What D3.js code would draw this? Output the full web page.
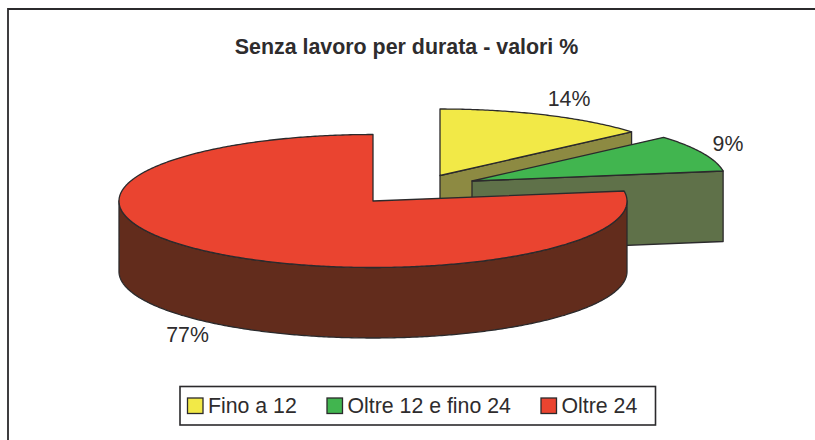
<!DOCTYPE html>
<html><head><meta charset="utf-8">
<script src="https://cdnjs.cloudflare.com/ajax/libs/d3/7.8.5/d3.min.js"></script>
<style>html,body{margin:0;padding:0;background:#fff}svg{display:block}text{font-family:"Liberation Sans",Arial,sans-serif;fill:#2e2c2d}</style>
</head><body><svg id="c" width="815" height="440"></svg>
<script>
const title = "Senza lavoro per durata - valori %";
const categories = ["Fino a 12", "Oltre 12 e fino 24", "Oltre 24"];
const values = [13.6, 9.0, 77.4];
const valueLabels = ["14%", "9%", "77%"];
const topColors = ["#f2e947", "#41b54f", "#ea4430"];
const wallColors = ["#8d8a42", "#5f7149", "#622c1c"];

const W = 815, H = 440, INK = "#2b2a2c";
const svg = d3.select("#c");
const RX = 254, RY = 66.5, DEPTH = 70.5;
// per-slice pie centre (exploded slices)
const centres = [[440, 175.5], [472, 181], [373, 201]];
const labelPos = [[569, 106], [728, 151], [187.5, 342]];

const pie = d3.pie().sort(null).value(d => d);
const arcs = pie(values);
const xs = d3.scaleLinear().domain([-1, 1]).range([-RX, RX]);
const ys = d3.scaleLinear().domain([-1, 1]).range([RY, -RY]);
const pt = (i, a, dz = 0) => [centres[i][0] + xs(Math.sin(a)), centres[i][1] + ys(Math.cos(a)) + dz];
const samples = (a0, a1) => { const n = Math.max(2, Math.ceil(Math.abs(a1 - a0) / 0.01)); return d3.range(n + 1).map(k => a0 + (a1 - a0) * k / n); };
const line = d3.line();

// frame: top and left edges only, the others fall outside the crop
svg.append("path").attr("d", line([[8, 440], [8, 9], [815, 9]]))
  .attr("fill", "none").attr("stroke", INK).attr("stroke-width", 1.8);

// title
svg.append("text").attr("x", 406.5).attr("y", 54).attr("text-anchor", "middle")
  .attr("font-size", 21.4).attr("font-weight", "bold").text(title);

const sty = sel => sel.attr("stroke", INK).attr("stroke-width", 1.3).attr("stroke-linejoin", "round");

arcs.forEach((d, i) => {
  const c = [centres[i][0], centres[i][1]];
  const g = svg.append("g");
  if (i < 2) {
    // cut face seen from the front: centre → end of slice, extruded downward
    const e = pt(i, d.endAngle);
    const dip = pt(i, d.endAngle, DEPTH);
    g.append("path").attr("d", line([c, e, dip, [c[0], c[1] + DEPTH]]) + "Z")
      .attr("fill", wallColors[i]).call(sty);
  } else {
    // outer rim of the large slice, front half only
    const a0 = Math.PI / 2, a1 = 3 * Math.PI / 2;
    const topEdge = samples(a0, a1).map(a => pt(i, a));
    const bottomEdge = samples(a1, a0).map(a => pt(i, a, DEPTH));
    g.append("path").attr("d", line(topEdge.concat(bottomEdge)) + "Z")
      .attr("fill", wallColors[i]).call(sty);
  }
  const rim = samples(d.startAngle, d.endAngle).map(a => pt(i, a));
  g.append("path").attr("d", line([c].concat(rim)) + "Z")
    .attr("fill", topColors[i]).call(sty);
});

// value labels
valueLabels.forEach((t, i) => svg.append("text")
  .attr("x", labelPos[i][0]).attr("y", labelPos[i][1]).attr("text-anchor", "middle")
  .attr("font-size", 21.3).text(t));

// legend
svg.append("rect").attr("x", 180).attr("y", 386.5).attr("width", 475.5).attr("height", 38.5)
  .attr("fill", "#fff").attr("stroke", INK).attr("stroke-width", 1.6);
const legendX = [187.5, 327, 541];
categories.forEach((t, i) => {
  svg.append("rect").attr("x", legendX[i]).attr("y", 398).attr("width", 15.5).attr("height", 15.5)
    .attr("fill", topColors[i]).attr("stroke", INK).attr("stroke-width", 1.3);
  svg.append("text").attr("x", legendX[i] + 20.5).attr("y", 412.5)
    .attr("font-size", 21.3).text(t);
});
</script></body></html>
